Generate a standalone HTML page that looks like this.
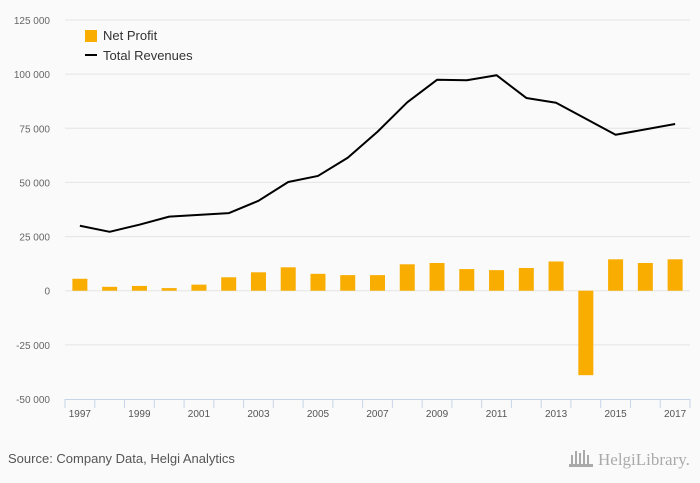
<!DOCTYPE html>
<html><head><meta charset="utf-8"><style>
html,body{margin:0;padding:0;background:#fafafa;}
body{width:700px;height:483px;overflow:hidden;font-family:"Liberation Sans",sans-serif;}
</style></head><body>
<svg id="chart" width="700" height="483" xmlns="http://www.w3.org/2000/svg" style="display:block">
<rect width="700" height="483" fill="#fafafa"/>
<g id="grid"></g><g id="bars"></g><g id="line"></g><g id="xaxis"></g>
<g>
<rect x="85" y="30" width="12" height="12" fill="#f9ad00"/>
<text x="103" y="40" font-size="13" fill="#333">Net Profit</text>
<line x1="85" y1="55" x2="97" y2="55" stroke="#000" stroke-width="2"/>
<text x="103" y="60" font-size="13" fill="#333">Total Revenues</text>
</g>
<text x="8" y="463" font-size="13" fill="#555">Source: Company Data, Helgi Analytics</text>
<text x="598" y="465" font-size="17" fill="#aaa" font-family="Liberation Serif,serif">HelgiLibrary.</text>
<g fill="#aaa"><rect x="571" y="455" width="2" height="10"/><rect x="575" y="451" width="2" height="14"/><rect x="579" y="453" width="2" height="12"/><rect x="583" y="450" width="2" height="15"/><rect x="587" y="455" width="2" height="10"/><rect x="569" y="464" width="24" height="3"/></g>
</svg>
<script>
const years = [1997,1998,1999,2000,2001,2002,2003,2004,2005,2006,2007,2008,2009,2010,2011,2012,2013,2014,2015,2016,2017];
const netProfit = [5500,1800,2200,1200,2800,6200,8500,10800,7800,7200,7200,12200,12800,10000,9500,10500,13500,-39000,14500,12800,14500];
const revenues = [30000,27200,30500,34200,35000,35800,41500,50200,53000,61400,73400,87000,97400,97200,99500,89000,86800,79400,72000,74500,77000];
const yTicks = [125000,100000,75000,50000,25000,0,-25000,-50000];
const yTickLabels = ["125 000","100 000","75 000","50 000","25 000","0","-25 000","-50 000"];

const NS="http://www.w3.org/2000/svg";
const plotL=65,plotR=690,plotT=20,plotB=399,yMax=125000,yMin=-50000;
const step=(plotR-plotL)/years.length;
function yPos(v){return plotT+(yMax-v)/(yMax-yMin)*(plotB-plotT);}
function xPos(i){return plotL+step*(i+0.5);}
function mk(tag,attrs,parent){const e=document.createElementNS(NS,tag);for(const k in attrs)e.setAttribute(k,attrs[k]);parent.appendChild(e);return e;}
const grid=document.getElementById('grid');
yTicks.forEach((t,i)=>{
  if(t!==yMin){const l=mk('line',{x1:plotL,x2:plotR,y1:yPos(t),y2:yPos(t),stroke:'#e4e4e4','stroke-width':1},grid);
  
  }
  const tx=mk('text',{x:50,y:yPos(t)+4,'text-anchor':'end','font-size':10,fill:'#666'},grid);
  tx.textContent=yTickLabels[i];
  
  
});
const bars=document.getElementById('bars');
netProfit.forEach((v,i)=>{
  const y0=yPos(0),y1=yPos(v);
  const r=mk('rect',{x:xPos(i)-7.5,y:Math.min(y0,y1),width:15,height:Math.abs(y1-y0),fill:'#f9ad00'},bars);
  
  
});
const pts=revenues.map((v,i)=>xPos(i)+','+yPos(v)).join(' ');
const pl=mk('polyline',{points:pts,fill:'none',stroke:'#000','stroke-width':2,'stroke-linejoin':'round'},document.getElementById('line'));


const xa=document.getElementById('xaxis');
const ax=mk('line',{x1:plotL,x2:plotR,y1:plotB+0.5,y2:plotB+0.5,stroke:'#c8d4e8'},xa);


for(let i=0;i<=years.length;i++){
  const tk=mk('line',{x1:plotL+step*i,x2:plotL+step*i,y1:plotB,y2:plotB+9,stroke:'#c8d4e8'},xa);
  
  
}
years.forEach((yr,i)=>{
  if(i%2) return;
  const t=mk('text',{x:xPos(i),y:plotB+18,'text-anchor':'middle','font-size':10,fill:'#555'},xa);
  t.textContent=yr;
  
  
});
</script>
</body></html>
